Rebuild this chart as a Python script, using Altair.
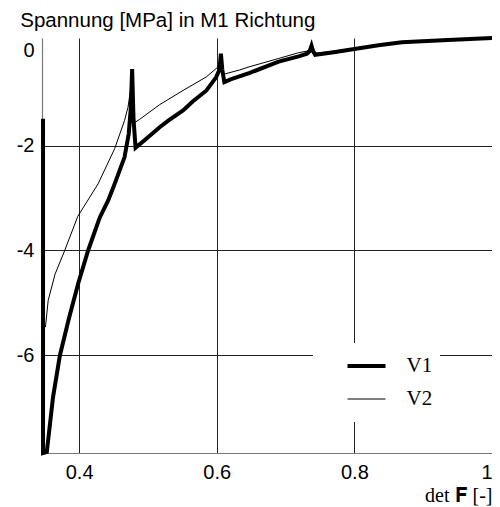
import altair as alt
import pandas as pd

# V1 (thick) path, ordered from det F = 1 towards compression and back
v1_x = [1.0, 0.936, 0.869, 0.835, 0.80, 0.77, 0.743, 0.740, 0.7377, 0.735, 0.731, 0.719, 0.69, 0.647,
        0.62, 0.611, 0.608, 0.606, 0.604, 0.599, 0.585, 0.565, 0.551, 0.53, 0.517, 0.495, 0.482, 0.479, 0.477, 0.475,
        0.472, 0.466, 0.4516, 0.442, 0.43, 0.413, 0.3986, 0.385, 0.372, 0.362, 0.353, 0.3475, 0.3475]
v1_y = [0.05, 0.01, -0.03, -0.09, -0.16, -0.22, -0.27, -0.20, -0.095, -0.20, -0.25, -0.30, -0.40, -0.62,
        -0.74, -0.79, -0.55, -0.25, -0.55, -0.70, -0.95, -1.16, -1.33, -1.52, -1.65, -1.90, -2.04, -1.50, -0.54, -1.30,
        -1.78, -2.22, -2.73, -3.05, -3.37, -4.00, -4.63, -5.30, -6.00, -6.80, -7.84, -7.86, -1.49]

# V2 (thin) path
v2_x = [1.0, 0.936, 0.869, 0.835, 0.80, 0.77, 0.745, 0.740, 0.7377, 0.735, 0.731, 0.719, 0.69, 0.647,
        0.633, 0.613, 0.609, 0.606, 0.603, 0.601, 0.585, 0.551, 0.517, 0.488, 0.481, 0.479, 0.477, 0.476,
        0.471, 0.466, 0.4516, 0.4275, 0.398, 0.379, 0.365, 0.355, 0.351, 0.3485, 0.3485]
v2_y = [0.05, 0.01, -0.03, -0.09, -0.15, -0.20, -0.24, -0.17, -0.10, -0.15, -0.20, -0.23, -0.34, -0.50,
        -0.56, -0.63, -0.63, -0.30, -0.42, -0.51, -0.69, -0.95, -1.22, -1.50, -1.56, -1.20, -0.60, -0.82,
        -1.27, -1.52, -2.06, -2.73, -3.35, -4.00, -4.45, -4.95, -5.46, -5.40, -2.00]

series = ["V1", "V2"]
x_ticks = [0.4, 0.6, 0.8, 1]
y_ticks = [0, -2, -4, -6]

rows = []
for name, xs, ys in (("V1", v1_x, v1_y), ("V2", v2_x, v2_y)):
    for i, (a, b) in enumerate(zip(xs, ys)):
        rows.append({"detF": a, "s": b, "series": name, "i": i})
df = pd.DataFrame(rows)

SANS = "Liberation Sans"
SERIF = "Liberation Serif"

chart = alt.Chart(df).mark_line(color="black").encode(
    x=alt.X("detF:Q", scale=alt.Scale(domain=[0.346, 1.0], nice=False, zero=False),
            axis=alt.Axis(values=x_ticks, title="det 𝐅 [-]", titleFont=SERIF, titleFontSize=20,
                          titleFontWeight="normal", titleAnchor="end", titleColor="black",
                          titlePadding=3,
                          labelExpr="'' + datum.value", labelFont=SANS, labelFontSize=20,
                          labelColor="black", labelPadding=9, ticks=False,
                          grid=True, gridColor="#222", gridWidth=1,
                          domainColor="#777", domainWidth=1.2)),
    y=alt.Y("s:Q", scale=alt.Scale(domain=[-7.86, 0.05], nice=False, zero=False),
            axis=alt.Axis(values=y_ticks, title=None,
                          labelExpr="'' + datum.value", labelFont=SANS, labelFontSize=20,
                          labelColor="black", labelPadding=8, ticks=False,
                          labelBaseline={"condition": {"test": "datum.value == 0", "value": "top"}, "value": "middle"},
                          grid=True, gridColor="#222", gridWidth=1,
                          gridOpacity={"condition": {"test": "datum.value == 0", "value": 0}, "value": 1},
                          domainColor="#777", domainWidth=1.2)),
    strokeWidth=alt.StrokeWidth("series:N", scale=alt.Scale(domain=series, range=[4, 1]),
                                legend=alt.Legend(title=None, orient="none", legendX=271, legendY=305,
                                                  fillColor="white", padding=7.5, symbolType="stroke",
                                                  symbolSize=1444, symbolOffset=25, clipHeight=31,
                                                  symbolStrokeColor="black", labelOffset=19,
                                                  labelFont=SERIF, labelFontSize=21, labelColor="black",
                                                  labelExpr="datum.label + '\u00a0\u00a0\u00a0'")),
    detail="series:N",
    order="i:Q",
).properties(
    width=450, height=415,
    title=alt.TitleParams("Spannung [MPa] in M1 Richtung", anchor="start", frame="bounds",
                          font=SANS, fontSize=20.5, fontWeight="normal", color="black",
                          baseline="alphabetic", offset=-17, dx=4),
    autosize=alt.AutoSizeParams(type="none"),
    padding={"left": 34, "top": 30, "right": 0, "bottom": 54},
).configure_view(stroke=None)

chart.save("out.html", embed_options={"renderer": "svg", "actions": False})
